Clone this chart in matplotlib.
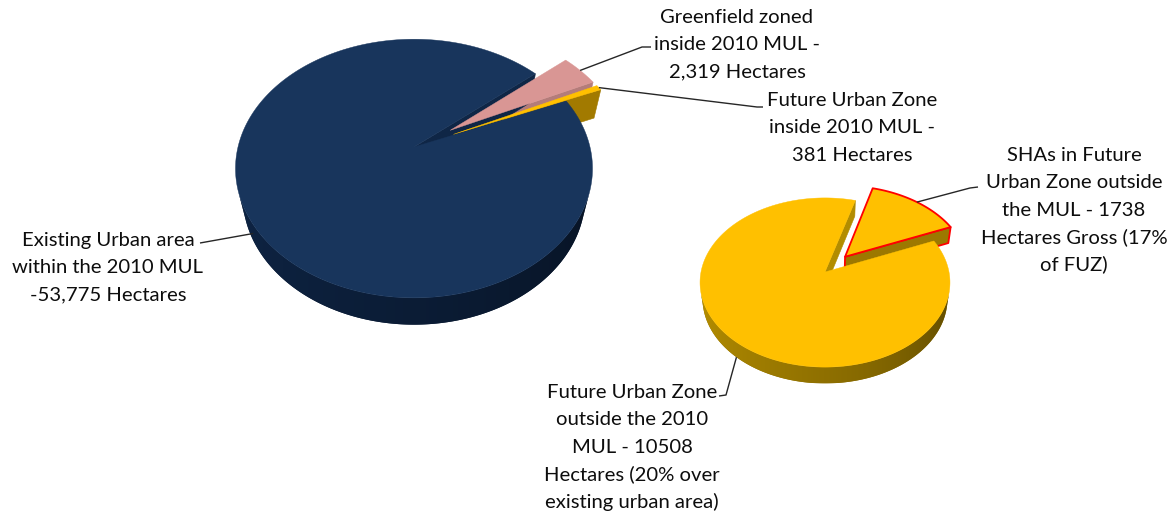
import numpy as np
import matplotlib
matplotlib.use("Agg")
import matplotlib.pyplot as plt
from matplotlib.patches import Polygon
from matplotlib.colors import to_rgb

plt.rcParams['font.family'] = ['Lato', 'DejaVu Sans']

# Land inside the 2010 Metropolitan Urban Limit (hectares)
mul_labels = [
    ["Existing Urban area", "within the 2010 MUL", "-53,775 Hectares"],
    ["Greenfield zoned", "inside 2010 MUL -", "2,319 Hectares"],
    ["Future Urban Zone", "inside 2010 MUL -", "381 Hectares"],
]
mul_values = [53775, 2319, 381]
mul_explode = [0.0, 0.25, 0.25]
mul_top = ["#18355c", "#d99694", "#ffc000"]
mul_side = ["#0d213e", "#b07674", "#a27a00"]
mul_wall = ["#0f2646", "#b47c7a", "#a27a00"]

# Future Urban Zone land outside the MUL (hectares)
fuz_labels = [
    ["Future Urban Zone", "outside the 2010", "MUL - 10508", "Hectares (20% over", "existing urban area)"],
    ["SHAs in Future", "Urban Zone outside", "the MUL - 1738", "Hectares Gross (17%", "of FUZ)"],
]
fuz_values = [10508, 1738]
fuz_explode = [0.0, 0.25]
fuz_top = ["#ffc000", "#ffc000"]
fuz_side = ["#a68200", "#9a7600"]
fuz_wall = ["#b28c00", "#9c7800"]
fuz_edge = [None, "#ff0000"]

FIRST_SLICE_ANGLE = 67  # degrees, clockwise from 12 o'clock


class PieView:
    """Perspective projection of a flat disc of unit radius onto the canvas."""

    def __init__(self, cx, cy, radius_px, dist, elev_deg, depth):
        self.cx, self.cy, self.a = cx, cy, radius_px
        self.D = dist
        e = np.radians(elev_deg)
        self.se, self.ce = np.sin(e), np.cos(e)
        self.h = depth
        self.cam = np.array([0.0, -dist * self.ce, dist * self.se])

    def project(self, pts):
        pts = np.atleast_2d(pts)
        u, v, z = pts[:, 0], pts[:, 1], pts[:, 2]
        d = self.D + v * self.ce - z * self.se
        x = self.cx + self.a * u * self.D / d
        y = self.cy - self.a * self.D * (v * self.se + z * self.ce) / d
        return np.column_stack([x, y])

    def facing(self, p, n):
        return np.dot(n, self.cam - p) > 0

    def distance(self, p):
        return np.linalg.norm(self.cam - p)


def side_shade(color, t):
    """Darken the rim towards the right, as with light from the upper left."""
    deg = np.degrees(t) % 360
    f = np.interp(deg, [0, 180, 230, 290, 360], [0.55, 1.12, 0.98, 0.8, 0.55])
    return np.clip(np.array(to_rgb(color))[None, :] * np.atleast_1d(f)[:, None], 0, 1)


def slice_geometry(values, first_angle):
    fr = np.asarray(values, float) / np.sum(values)
    cw = first_angle + np.concatenate([[0.0], np.cumsum(fr)]) * 360.0
    return [(90.0 - cw[i + 1], 90.0 - cw[i]) for i in range(len(values))]


def runs(mask):
    out, start = [], None
    for k, m in enumerate(mask):
        if m and start is None:
            start = k
        if not m and start is not None:
            out.append((start, k))
            start = None
    if start is not None:
        out.append((start, len(mask)))
    return out


def draw_pie(ax, view, values, explode, tops, sides, walls, edges=None):
    if edges is None:
        edges = [None] * len(values)
    h = view.h
    geo = slice_geometry(values, FIRST_SLICE_ANGLE)
    faces = []
    top_faces = []
    anchors = []
    for i, (ts_deg, te_deg) in enumerate(geo):
        mid = np.radians((ts_deg + te_deg) / 2)
        off = explode[i] * np.array([np.cos(mid), np.sin(mid)])
        n_seg = max(2, int((te_deg - ts_deg) / 0.5) + 2)
        ts = np.radians(np.linspace(ts_deg, te_deg, n_seg))
        ec = edges[i]
        # curved rim: one polygon per visible run, shaded across its width
        tm = (ts[:-1] + ts[1:]) / 2
        vis = []
        for t in tm:
            n = np.array([np.cos(t), np.sin(t), 0.0])
            p = np.array([off[0] + np.cos(t), off[1] + np.sin(t), -h / 2])
            vis.append(view.facing(p, n))
        for a0, a1 in runs(vis):
            tt = ts[a0:a1 + 1]
            top = np.column_stack([off[0] + np.cos(tt), off[1] + np.sin(tt), np.zeros_like(tt)])
            bot = top.copy()
            bot[:, 2] = -h
            xy = view.project(np.vstack([top, bot[::-1]]))
            tc = tt[len(tt) // 2]
            pc = np.array([off[0] + np.cos(tc), off[1] + np.sin(tc), -h / 2])
            faces.append(("rim", view.distance(pc) + 0.5, xy, sides[i], ec, off))
        # radial walls
        for t_deg, sgn in [(ts_deg, -1), (te_deg, 1)]:
            t = np.radians(t_deg)
            n = sgn * np.array([-np.sin(t), np.cos(t), 0.0])
            p = np.array([off[0] + 0.5 * np.cos(t), off[1] + 0.5 * np.sin(t), -h / 2])
            if view.facing(p, n):
                q = np.array([
                    [off[0], off[1], 0],
                    [off[0] + np.cos(t), off[1] + np.sin(t), 0],
                    [off[0] + np.cos(t), off[1] + np.sin(t), -h],
                    [off[0], off[1], -h],
                ])
                faces.append(("wall", view.distance(p), view.project(q), walls[i], ec, off))
        # top face
        arc = np.column_stack([off[0] + np.cos(ts), off[1] + np.sin(ts), np.zeros_like(ts)])
        pts = np.vstack([[off[0], off[1], 0], arc])
        top_faces.append((view.project(pts), tops[i], ec))
        anchors.append((mid, off))

    faces.sort(key=lambda f: -f[1])
    z = 1.0
    for kind, _, xy, fc, ec, off in faces:
        z += 0.01
        if kind == "rim":
            base = Polygon(xy, closed=True, facecolor=side_shade(fc, np.radians(270))[0],
                           edgecolor=ec if ec else 'none', lw=1.3 if ec else 0, zorder=z)
            ax.add_patch(base)
            x0, x1 = xy[:, 0].min(), xy[:, 0].max()
            y0, y1 = xy[:, 1].min(), xy[:, 1].max()
            cols = np.linspace(x0, x1, 300)
            u = np.clip((cols - view.cx) / (view.a * 1.02), -1, 1)
            tcol = 2 * np.pi - np.arccos(u)
            img = side_shade(fc, tcol)[None, :, :]
            im = ax.imshow(img, extent=(x0, x1, y1, y0), aspect='auto', zorder=z + 0.001,
                           interpolation='bilinear')
            clip = Polygon(xy, closed=True, transform=ax.transData)
            im.set_clip_path(clip)
        else:
            if ec:
                ax.add_patch(Polygon(xy, closed=True, facecolor=fc, edgecolor=ec, lw=1.3,
                                     joinstyle='round', zorder=z))
            else:
                ax.add_patch(Polygon(xy, closed=True, facecolor=fc, edgecolor=fc, lw=0.4, zorder=z))
    for xy, fc, ec in top_faces:
        z += 0.01
        if ec:
            ax.add_patch(Polygon(xy, closed=True, facecolor=fc, edgecolor=ec, lw=1.3,
                                 joinstyle='round', zorder=z))
        else:
            ax.add_patch(Polygon(xy, closed=True, facecolor=fc, edgecolor=fc, lw=0.3, zorder=z))
    return anchors


def rim_point(view, anchor, z_frac=0.0):
    mid, off = anchor
    p = np.array([off[0] + np.cos(mid), off[1] + np.sin(mid), -view.h * z_frac])
    return view.project(p)[0]


fig = plt.figure(figsize=(11.71, 5.12), dpi=100)
ax = fig.add_axes([0, 0, 1, 1])
ax.set_xlim(0, 1171)
ax.set_ylim(512, 0)
ax.axis('off')

mul_view = PieView(414, 147, 176, 4.2, 45.6, 0.24)
fuz_view = PieView(825, 272, 124, 5.96, 42.2, 0.18)

mul_anchor = draw_pie(ax, mul_view, mul_values, mul_explode, mul_top, mul_side, mul_wall)
fuz_anchor = draw_pie(ax, fuz_view, fuz_values, fuz_explode, fuz_top, fuz_side, fuz_wall, fuz_edge)
ax.set_xlim(0, 1171)
ax.set_ylim(512, 0)

LINE = dict(color="#262626", lw=1.0, solid_capstyle='butt', zorder=10)
TEXT = dict(fontsize=14.6, color="#0d0d0d", ha='center', va='baseline', zorder=10)
LEAD = 27.4


def label(lines, x, y0):
    for j, s in enumerate(lines):
        ax.text(x, y0 + j * LEAD, s, **TEXT)


def leader(start, *pts):
    xs = [start[0]] + [p[0] for p in pts]
    ys = [start[1]] + [p[1] for p in pts]
    ax.plot(xs, ys, **LINE)


# Existing urban area
leader(rim_point(mul_view, mul_anchor[0], 0.5), (200, 243))
label(mul_labels[0], 108, 246)
# Greenfield zoned
leader(rim_point(mul_view, mul_anchor[1]), (642, 47), (651, 47))
label(mul_labels[1], 737, 23)
# Future Urban Zone inside the MUL
leader(rim_point(mul_view, mul_anchor[2]), (757, 107), (763, 107))
label(mul_labels[2], 852, 106)
# Future Urban Zone outside the MUL
leader(rim_point(fuz_view, fuz_anchor[0], 1.0), (726, 395), (719, 396))
label(fuz_labels[0], 632, 398)
# SHAs in the Future Urban Zone
leader(rim_point(fuz_view, fuz_anchor[1]), (970, 188), (978, 187))
label(fuz_labels[1], 1074, 161)

fig.savefig("out.png", dpi=100, facecolor="white")
